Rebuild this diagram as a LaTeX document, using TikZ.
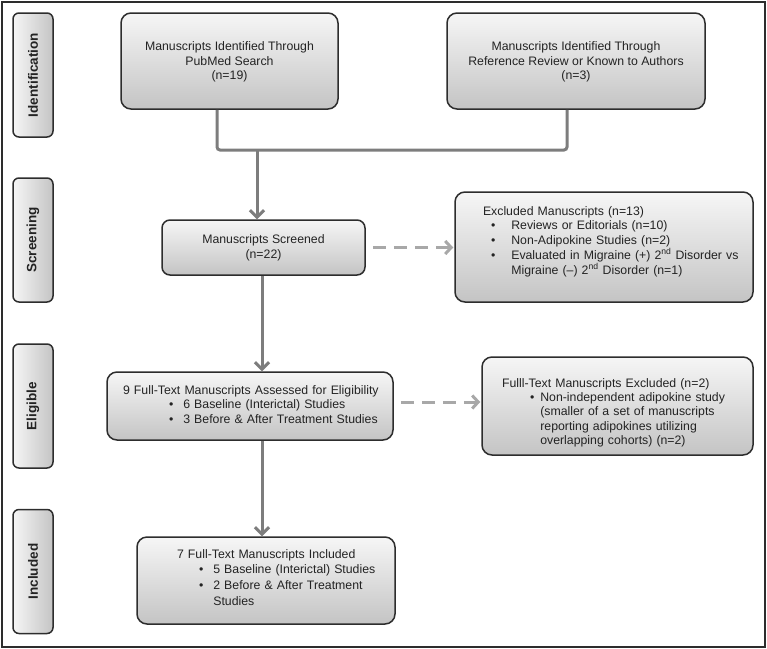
\documentclass[tikz,border=0pt]{standalone}
\usepackage{fontspec}
\setmainfont{Liberation Sans}
\usepackage{graphicx}
\usepackage{array}
\usetikzlibrary{arrows.meta, positioning}

\definecolor{boxtop}{RGB}{246,246,246}
\definecolor{boxbot}{RGB}{196,196,196}
\definecolor{edge}{RGB}{45,45,45}
\definecolor{flow}{RGB}{125,125,125}
\definecolor{skip}{RGB}{168,168,168}
\definecolor{ink}{RGB}{35,35,35}

\tikzset{
  box/.style={draw=edge, line width=1.5pt, rounded corners=10pt, top color=boxtop, bottom color=boxbot, text=ink, inner sep=0pt, font=\fontsize{12.3}{14.8}\selectfont},
  stage/.style={draw=edge, line width=1.5pt, rounded corners=6pt, left color=boxtop, right color=boxbot, text=ink, inner sep=0pt, minimum width=40pt, minimum height=124pt, font=\fontsize{13.5}{16}\selectfont\bfseries},
  link/.style={draw=flow, line width=3pt},
  arrow/.style={link, -{Straight Barb[length=7pt,width=14pt]}},
  skiparrow/.style={draw=skip, line width=3pt, dash pattern=on 13pt off 8pt, -{Straight Barb[length=6pt,width=13pt]}}
}
\newcommand{\bl}{\textbullet}
% shift a text block inside its box without changing the box
\newcommand{\nudge}[2]{\raisebox{#1}[\height][\depth]{#2}}

\begin{document}
\begin{tikzpicture}[x=1pt,y=-1pt]
\useasboundingbox (0,0) rectangle (767,648);
%Outer frame
\draw [edge, line width=2pt] (2,1.5) rectangle (765,646.5);

%Stage labels
\node [stage] (ident) at (33,75) {\rotatebox{90}{Identification}};
\node [stage] (scr) at (33,240) {\rotatebox{90}{Screening}};
\node [stage] (elg) at (33,406) {\rotatebox{90}{Eligible}};
\node [stage] (inc) at (33,571.5) {\rotatebox{90}{Included}};

%Identification boxes
\node [box, minimum width=217pt, minimum height=96pt, font=\fontsize{12.3}{14.5}\selectfont] (idpub) at (229.5,61) {\nudge{-1.5pt}{%
\begin{tabular}{@{}c@{}}
Manuscripts Identified Through\\
PubMed Search\\
(n=19)
\end{tabular}}};
\node [box, minimum width=258pt, minimum height=96pt, font=\fontsize{12.3}{14.5}\selectfont] (idref) at (576,61) {\nudge{-1.5pt}{%
\begin{tabular}{@{}c@{}}
Manuscripts Identified Through\\
Reference Review or Known to Authors\\
(n=3)
\end{tabular}}};
\coordinate (join) at (257,150);

%Screening
\node [box, rounded corners=8pt, minimum width=203pt, minimum height=55pt, align=center] (screen) at (263.5,247.5) {Manuscripts Screened\\(n=22)};
\node [box, inner xsep=28pt, text width=242pt, minimum height=110pt, align=left, font=\fontsize{12.3}{14.3}\selectfont] (exclone) at (604,247) {\nudge{5pt}{%
\begin{tabular}{@{\hspace{8pt}}l@{\hspace{16pt}}l@{}}
\multicolumn{2}{@{}l@{}}{Excluded Manuscripts (n=13)}\\
\bl & Reviews or Editorials (n=10)\\
\bl & Non-Adipokine Studies (n=2)\\
\bl & Evaluated in Migraine (+) 2\textsuperscript{nd} Disorder vs\\
 & Migraine (--) 2\textsuperscript{nd} Disorder (n=1)
\end{tabular}}};

%Eligibility
\node [box, inner xsep=16pt, text width=254pt, minimum height=68pt, align=left] (elig) at (250,406) {%
\begin{tabular}{@{\hspace{46pt}}l@{\hspace{10pt}}l@{}}
\multicolumn{2}{@{}l@{}}{9 Full-Text Manuscripts Assessed for Eligibility}\\
\bl & 6 Baseline (Interictal) Studies\\
\bl & 3 Before \& After Treatment Studies
\end{tabular}};
\node [box, inner xsep=20pt, text width=231pt, minimum height=98pt, align=left, font=\fontsize{12.3}{14.2}\selectfont] (excltwo) at (617.5,406) {\nudge{-7pt}{%
\begin{tabular}{@{\hspace{28pt}}l@{\hspace{6pt}}l@{}}
\multicolumn{2}{@{}l@{}}{Fulll-Text Manuscripts Excluded (n=2)}\\
\bl & Non-independent adipokine study\\
 & (smaller of a set of manuscripts\\
 & reporting adipokines utilizing\\
 & overlapping cohorts) (n=2)
\end{tabular}}};

%Included
\node [box, inner xsep=40pt, text width=178pt, minimum height=87pt, align=left, font=\fontsize{12.3}{15.6}\selectfont] (incl) at (266,580.5) {\nudge{2pt}{%
\begin{tabular}{@{\hspace{22pt}}l@{\hspace{10pt}}l@{}}
\multicolumn{2}{@{}l@{}}{7 Full-Text Manuscripts Included}\\
\bl & 5 Baseline (Interictal) Studies\\
\bl & 2 Before \& After Treatment\\
 & Studies
\end{tabular}}};

%Connectors
\draw [link, rounded corners=3pt] ([xshift=-12.5pt]idpub.south) |- ([xshift=-9pt]idref.south |- join) -- ([xshift=-9pt]idref.south);
\draw [arrow] (join) -- (join |- screen.north);
\draw [arrow] ([xshift=-1.5pt]screen.south) -- ([xshift=-1.5pt]screen.south |- elig.north);
\draw [arrow] ([xshift=12pt]elig.south) -- ([xshift=12pt]elig.south |- incl.north);
\draw [skiparrow, shorten <=7pt, shorten >=1pt] (screen.east) -- (screen.east -| exclone.west);
\draw [skiparrow, shorten <=7pt, shorten >=1pt] ([yshift=4pt]elig.east) -- ([yshift=4pt]elig.east -| excltwo.west);

\end{tikzpicture}
\end{document}
